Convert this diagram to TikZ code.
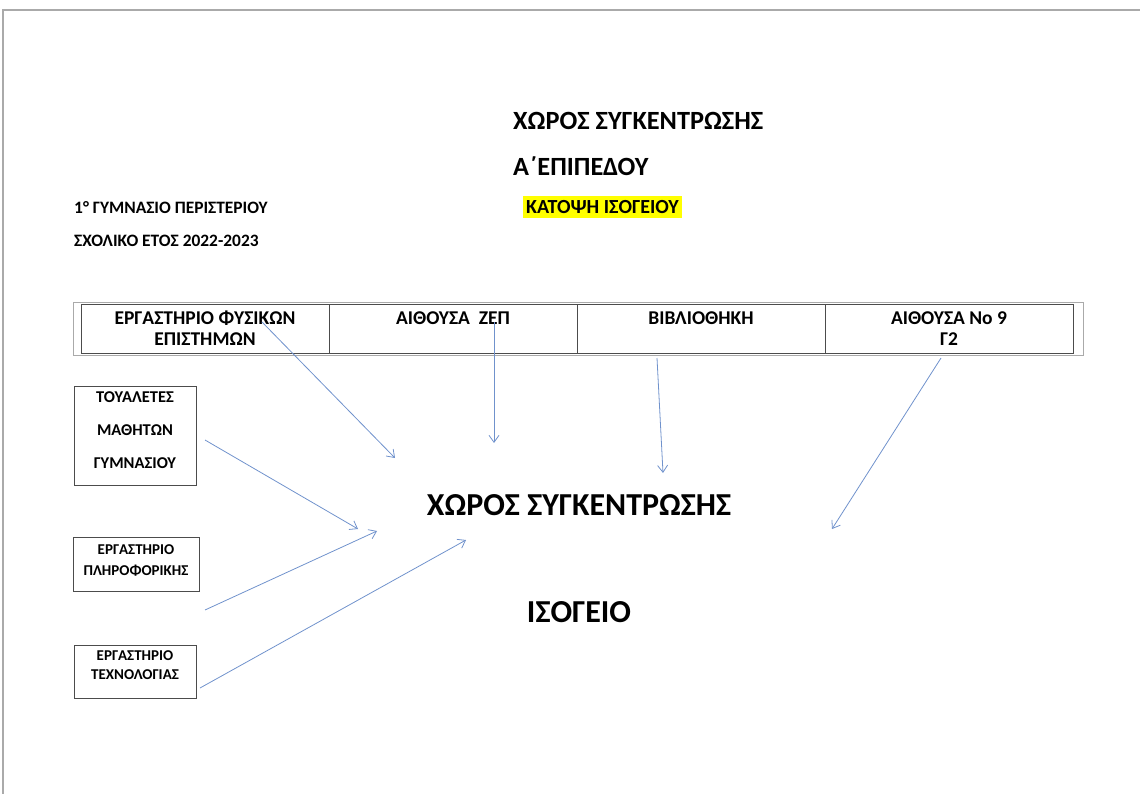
\documentclass[tikz,border=0pt]{standalone}
\usepackage{fontspec}
\setmainfont{Carlito}
\usetikzlibrary{arrows.meta}
\definecolor{arrowblue}{RGB}{112,146,204}
\definecolor{framegray}{RGB}{170,170,170}
\definecolor{hilite}{RGB}{255,255,0}
\tikzset{>={Straight Barb[length=7pt,width=10pt]}}
\tikzset{
  cell/.style = {draw = black!70, line width = 0.8pt, minimum width = 248pt, minimum height = 49pt, inner sep = 0pt, align = center, font = \fontsize{19.5}{21}\selectfont\bfseries},
  room/.style = {draw = black!70, line width = 0.8pt, inner sep = 0pt},
  roomtext/.style = {align = center, inner sep = 0pt},
  info/.style = {anchor = west, inner sep = 0pt, font = \fontsize{17.4}{19}\selectfont\bfseries},
  flow/.style = {draw = arrowblue, line width = 0.8pt, ->}
}

\begin{document}
\begin{tikzpicture}[x = 1pt, y = -1pt]

\useasboundingbox (0, 0) rectangle (1140, 794);
\draw[framegray, line width = 1.2pt] (3, 794) -- (3, 10) -- (1140, 10);

\node[anchor = west, inner sep = 0pt, font = \fontsize{26.3}{28}\selectfont\bfseries] (title) at (513, 121) {ΧΩΡΟΣ ΣΥΓΚΕΝΤΡΩΣΗΣ};
\node[anchor = west, inner sep = 0pt, font = \fontsize{26.3}{28}\selectfont\bfseries] (level) at (513, 166) {Α΄ΕΠΙΠΕΔΟΥ};
\node[anchor = west, fill = hilite, inner xsep = 3pt, inner ysep = 4.5pt, font = \fontsize{20}{22}\selectfont\bfseries] (plan) at (523, 207) {ΚΑΤΟΨΗ ΙΣΟΓΕΙΟΥ};
\node[info] (school) at (74, 208) {1° ΓΥΜΝΑΣΙΟ ΠΕΡΙΣΤΕΡΙΟΥ};
\node[info] (year) at (74, 241) {ΣΧΟΛΙΚΟ ΕΤΟΣ 2022-2023};

\draw[framegray, line width = 0.8pt] (73, 302) rectangle (1083, 355);
\node[cell] (fysikon) at (205, 328.5) {ΕΡΓΑΣΤΗΡΙΟ ΦΥΣΙΚΩΝ\\ΕΠΙΣΤΗΜΩΝ};
\node[cell] (zep) at (453, 328.5) {ΑΙΘΟΥΣΑ\ \ ΖΕΠ\\\phantom{Γ}};
\node[cell] (vivlio) at (701, 328.5) {ΒΙΒΛΙΟΘΗΚΗ\\\phantom{Γ}};
\node[cell] (aith9) at (949, 328.5) {ΑΙΘΟΥΣΑ Νο 9\\Γ2};

\node[room, minimum width = 122pt, minimum height = 99pt] (toual) at (135, 435.5) {};
\node[room, minimum width = 126pt, minimum height = 54pt] (plirof) at (136, 564) {};
\node[room, minimum width = 122pt, minimum height = 53pt] (techn) at (135, 671.5) {};
\node[roomtext, font = \fontsize{16.5}{33}\selectfont\bfseries] (toual-t) at ([yshift = 5.5pt]toual.center) {ΤΟΥΑΛΕΤΕΣ\\ΜΑΘΗΤΩΝ\\ΓΥΜΝΑΣΙΟΥ};
\node[roomtext, font = \fontsize{15}{21}\selectfont\bfseries] (plirof-t) at ([yshift = 3.5pt]plirof.center) {ΕΡΓΑΣΤΗΡΙΟ\\ΠΛΗΡΟΦΟΡΙΚΗΣ};
\node[roomtext, font = \fontsize{15}{19}\selectfont\bfseries] (techn-t) at ([yshift = 6pt]techn.center) {ΕΡΓΑΣΤΗΡΙΟ\\ΤΕΧΝΟΛΟΓΙΑΣ};

\node[inner sep = 0pt, font = \fontsize{32}{34}\selectfont\bfseries] (choros) at (579, 505) {ΧΩΡΟΣ ΣΥΓΚΕΝΤΡΩΣΗΣ};
\node[inner sep = 0pt, font = \fontsize{32}{34}\selectfont\bfseries] (isogeio) at (579, 612) {ΙΣΟΓΕΙΟ};

% arrow ends
\coordinate (s1) at (262, 322);
\coordinate (e1) at (395, 458);
\coordinate (s2) at (494, 322);
\coordinate (e2) at (494, 443);
\coordinate (s3) at (657, 358);
\coordinate (e3) at (663, 473);
\coordinate (s4) at (941, 358);
\coordinate (e4) at (832, 529);
\coordinate (s5) at (205, 440);
\coordinate (e5) at (358, 529);
\coordinate (s6) at (205, 610);
\coordinate (e6) at (377, 531);
\coordinate (s7) at (200, 688);
\coordinate (e7) at (466, 540);

\foreach \n in {1, ..., 7}{\draw [flow] (s\n) -- (e\n);}

\end{tikzpicture}
\end{document}
